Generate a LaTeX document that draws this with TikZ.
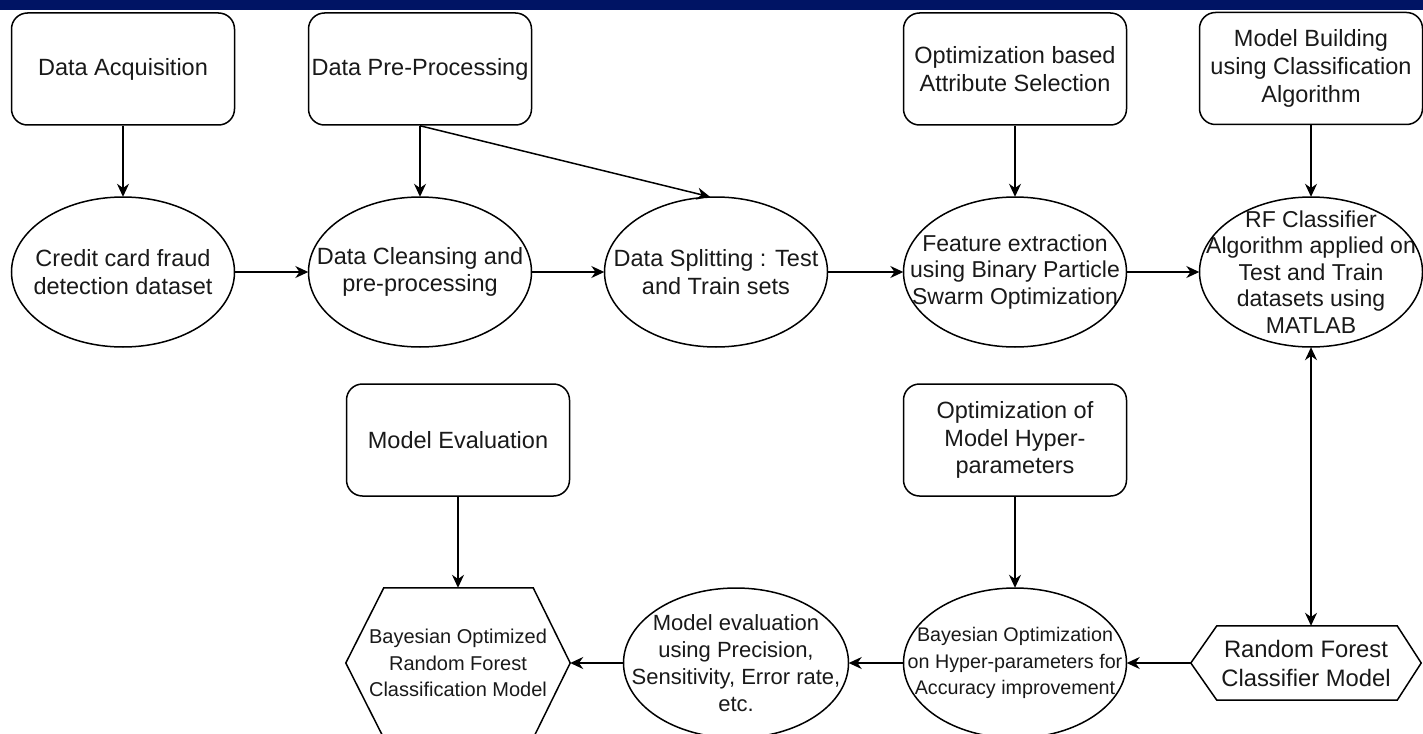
\documentclass[tikz,border=0pt]{standalone}
\usepackage{fontspec}
\setmainfont{Liberation Sans}
\usetikzlibrary{arrows.meta}
\definecolor{navybar}{RGB}{0,20,100}
\definecolor{txt}{RGB}{25,25,25}
\begin{document}
\begin{tikzpicture}[x=1pt,y=-1pt,
  outline/.style={line width=1.5pt, draw=black},
  fbig/.style={font=\fontsize{23.5}{27.7}\selectfont},
  box/.style={outline, rounded corners=16pt, minimum width=223pt, minimum height=112pt, inner sep=0pt, align=center, fbig, text=txt},
  ovalnode/.style={minimum width=223pt, minimum height=150pt, inner sep=0pt, align=center, fbig, text=txt},
  arr/.style={line width=1.5pt, -{Stealth[length=13pt,width=12pt]}},
  darr/.style={line width=1.5pt, {Stealth[length=13pt,width=12pt]}-{Stealth[length=13pt,width=12pt]}},
]
\path[use as bounding box] (0,0) rectangle (1423,733);
\fill[navybar] (0,0) rectangle (1423,10);

% top boxes
\node[box] (acq) at (123,69) {Data Acquisition};
\node[box] (pre) at (420,69) {Data Pre-Processing};
\node[box] (opt) at (1015,69) {Optimization based\\Attribute Selection};
\node[box] (mb) at (1311,68.5) {Model Building\\using Classification\\Algorithm};

% ellipse row
\node[ovalnode] (cc) at (123,272) {Credit card fraud\\detection dataset};
\node[ovalnode] (dc) at (420,272) {Data Cleansing and\\pre-processing};
\node[ovalnode] (ds) at (716,272) {Data Splitting : Test\\and Train sets};
\node[ovalnode, font=\fontsize{23}{26.7}\selectfont] (fe) at (1015,272) {Feature extraction\\using Binary Particle\\Swarm Optimization};
\node[ovalnode, font=\fontsize{23}{26.6}\selectfont] (rf) at (1311,272) {RF Classifier\\Algorithm applied on\\Test and Train\\datasets using\\MATLAB};

% lower boxes
\node[box] (me) at (458,440) {Model Evaluation};
\node[box] (oh) at (1015,440) {Optimization of\\Model Hyper-\\parameters};

% bottom row
\node[ovalnode, minimum width=224pt, font=\fontsize{20}{26.7}\selectfont] (bo) at (458,663) {Bayesian Optimized\\Random Forest\\Classification Model};
\node[ovalnode, minimum width=225pt, font=\fontsize{22}{27}\selectfont] (mev) at (736,663) {Model evaluation\\using Precision,\\Sensitivity, Error rate,\\etc.};
\node[ovalnode, font=\fontsize{19.7}{26.7}\selectfont] (bay) at (1015,663) {Bayesian Optimization\\on Hyper-parameters for\\Accuracy improvement};
\node[ovalnode, minimum width=230pt, minimum height=74pt, font=\fontsize{23.8}{29}\selectfont] (rfm) at (1306,663) {Random Forest\\Classifier Model};

% ellipse outlines
\foreach \n/\r in {cc/111.5, dc/111.5, ds/111.5, fe/111.5, rf/111.5, mev/112.5, bay/111.5}
  \draw[outline] (\n.center) ellipse [x radius=\r pt, y radius=75pt];

% hexagon outlines
\draw[outline] (bo.west) -- ([xshift=38pt]bo.north west) -- ([xshift=-37pt]bo.north east) -- (bo.east)
  -- ([xshift=-37pt]bo.south east) -- ([xshift=38pt]bo.south west) -- cycle;
\draw[outline] (rfm.west) -- ([xshift=26pt]rfm.north west) -- ([xshift=-24pt]rfm.north east) -- (rfm.east)
  -- ([xshift=-24pt]rfm.south east) -- ([xshift=26pt]rfm.south west) -- cycle;

% connectors
\draw[arr] (acq.south) -- (cc.north);
\draw[arr] (pre.south) -- (dc.north);
\draw[arr] (pre.south) -- ([xshift=-6pt]ds.north);
\draw[arr] (opt.south) -- (fe.north);
\draw[arr] (mb.south) -- (rf.north);
\draw[arr] (cc.east) -- (dc.west);
\draw[arr] (dc.east) -- (ds.west);
\draw[arr] (ds.east) -- (fe.west);
\draw[arr] (fe.east) -- (rf.west);
\draw[darr] (rf.south) -- (rf.south |- rfm.north);
\draw[arr] (rfm.west) -- (bay.east);
\draw[arr] (oh.south) -- (bay.north);
\draw[arr] (bay.west) -- (mev.east);
\draw[arr] (mev.west) -- (bo.east);
\draw[arr] (me.south) -- (bo.north);
\end{tikzpicture}
\end{document}
